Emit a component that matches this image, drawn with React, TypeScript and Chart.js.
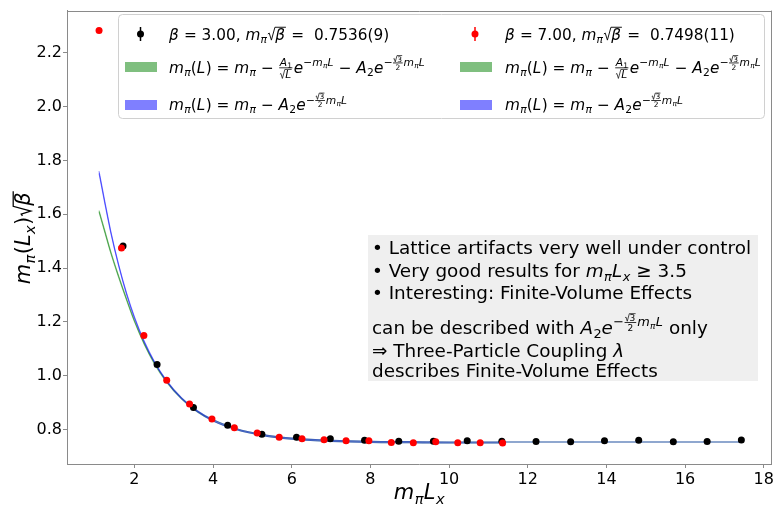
import React, { useEffect, useRef } from 'react';
import { Chart, registerables } from 'chart.js';
Chart.register(...registerables);

// ---------- data ----------
const xTicks = [2, 4, 6, 8, 10, 12, 14, 16, 18];
const yTicks = [0.8, 1.0, 1.2, 1.4, 1.6, 1.8, 2.0, 2.2];

const beta3X = [1.71, 2.575, 3.5, 4.37, 5.24, 6.12, 6.98, 7.85, 8.72, 9.6, 10.46, 11.34, 12.21, 13.09, 13.95, 14.82, 15.7, 16.56, 17.43];
const beta3Y = [1.482, 1.042, 0.882, 0.816, 0.783, 0.771, 0.766, 0.76, 0.757, 0.757, 0.758, 0.757, 0.756, 0.755, 0.758, 0.76, 0.755, 0.756, 0.761];

const beta7X = [1.1, 1.67, 2.24, 2.82, 3.4, 3.97, 4.54, 5.12, 5.68, 6.26, 6.82, 7.38, 7.96, 8.53, 9.09, 9.66, 10.22, 10.79, 11.36];
const beta7Y = [2.283, 1.475, 1.15, 0.983, 0.895, 0.839, 0.807, 0.787, 0.771, 0.766, 0.762, 0.758, 0.758, 0.752, 0.751, 0.755, 0.751, 0.751, 0.75];

const fitX3 = [1.1, 1.25, 1.4, 1.6, 1.8, 2.0, 2.25, 2.5, 2.8, 3.2, 3.6, 4.0, 4.6, 5.2, 6.0, 7.0, 8.0, 9.0, 10.0, 11.4, 13.0, 15.0, 17.43];
const fitBlue3 = [1.76, 1.645, 1.536, 1.412, 1.307, 1.219, 1.128, 1.055, 0.986, 0.918, 0.87, 0.836, 0.803, 0.783, 0.768, 0.76, 0.756, 0.755, 0.754, 0.754, 0.7537, 0.7536, 0.7536];
const fitGreen3 = [1.614, 1.537, 1.46, 1.37, 1.285, 1.205, 1.12, 1.05, 0.983, 0.917, 0.869, 0.836, 0.803, 0.783, 0.768, 0.76, 0.756, 0.755, 0.754, 0.754, 0.7537, 0.7536, 0.7536];

const fitX7 = [1.1, 1.25, 1.4, 1.6, 1.8, 2.0, 2.25, 2.5, 2.8, 3.2, 3.6, 4.0, 4.6, 5.2, 6.0, 7.0, 8.0, 9.0, 10.0, 11.36];
const fitBlue7 = [1.752, 1.638, 1.53, 1.407, 1.302, 1.214, 1.124, 1.051, 0.982, 0.914, 0.866, 0.832, 0.799, 0.779, 0.764, 0.756, 0.752, 0.751, 0.75, 0.75];
const fitGreen7 = [1.608, 1.531, 1.455, 1.365, 1.281, 1.201, 1.116, 1.046, 0.979, 0.913, 0.865, 0.832, 0.799, 0.779, 0.764, 0.756, 0.752, 0.751, 0.75, 0.75];

const legendLabel3 = '3.00';
const legendValue3 = '0.7536(9)';
const legendLabel7 = '7.00';
const legendValue7 = '0.7498(11)';

// ---------- math text ----------
type Seg = { t?: string; it?: boolean; sub?: Seg[]; sup?: Seg[]; frac?: [Seg[], Seg[]]; sqrt?: Seg[] };
const FAMILY = "'DejaVu Sans', sans-serif";

function setFont(ctx: CanvasRenderingContext2D, size: number, it: boolean) {
  ctx.font = `${it ? 'italic ' : ''}${size}px ${FAMILY}`;
}

function render(ctx: CanvasRenderingContext2D, segs: Seg[], x: number, y: number, size: number, draw: boolean): number {
  let cx = x;
  for (const s of segs) {
    if (s.t !== undefined) {
      setFont(ctx, size, !!s.it);
      const w = ctx.measureText(s.t).width;
      if (draw) ctx.fillText(s.t, cx, y);
      cx += w + (s.it ? size * 0.02 : 0);
    } else if (s.sub) {
      cx += render(ctx, s.sub, cx, y + size * 0.22, size * 0.7, draw);
    } else if (s.sup) {
      cx += render(ctx, s.sup, cx, y - size * 0.42, size * 0.7, draw);
    } else if (s.frac) {
      const fs = size * 0.7;
      const wn = render(ctx, s.frac[0], 0, 0, fs, false);
      const wd = render(ctx, s.frac[1], 0, 0, fs, false);
      const w = Math.max(wn, wd) + size * 0.12;
      const axis = y - size * 0.3;
      if (draw) {
        render(ctx, s.frac[0], cx + (w - wn) / 2, axis - size * 0.12, fs, true);
        render(ctx, s.frac[1], cx + (w - wd) / 2, axis + size * 0.66, fs, true);
        ctx.fillRect(cx + size * 0.04, axis - size * 0.03, w - size * 0.08, Math.max(0.8, size * 0.05));
      }
      cx += w + size * 0.04;
    } else if (s.sqrt) {
      const wc = render(ctx, s.sqrt, 0, 0, size, false);
      const rw = size * 0.5;
      if (draw) {
        ctx.save();
        ctx.lineWidth = Math.max(0.7, size * 0.06);
        ctx.strokeStyle = ctx.fillStyle as string;
        ctx.beginPath();
        ctx.moveTo(cx + size * 0.04, y - size * 0.36);
        ctx.lineTo(cx + size * 0.13, y - size * 0.42);
        ctx.lineTo(cx + size * 0.27, y + size * 0.04);
        ctx.lineTo(cx + rw, y - size * 0.8);
        ctx.lineTo(cx + rw + wc + size * 0.06, y - size * 0.8);
        ctx.stroke();
        ctx.restore();
        render(ctx, s.sqrt, cx + rw + size * 0.03, y, size, true);
      }
      cx += rw + wc + size * 0.1;
    }
  }
  return cx - x;
}

const mpi: Seg[] = [{ t: 'm', it: true }, { sub: [{ t: 'π', it: true }] }];
const expA2: Seg[] = [
  { t: 'A', it: true }, { sub: [{ t: '2' }] }, { t: 'e', it: true },
  { sup: [{ t: '−' }, { frac: [[{ sqrt: [{ t: '3' }] }], [{ t: '2' }]] }, ...mpi, { t: 'L', it: true }] },
];
const row1 = (b: string, v: string): Seg[] => [
  { t: 'β', it: true }, { t: ` = ${b}, ` }, ...mpi, { sqrt: [{ t: 'β', it: true }] }, { t: ` =  ${v}` },
];
const row2: Seg[] = [
  ...mpi, { t: '(' }, { t: 'L', it: true }, { t: ') = ' }, ...mpi, { t: ' − ' },
  { frac: [[{ t: 'A', it: true }, { sub: [{ t: '1' }] }], [{ sqrt: [{ t: 'L', it: true }] }]] },
  { t: 'e', it: true }, { sup: [{ t: '−' }, ...mpi, { t: 'L', it: true }] }, { t: ' − ' }, ...expA2,
];
const row3: Seg[] = [...mpi, { t: '(' }, { t: 'L', it: true }, { t: ') = ' }, ...mpi, { t: ' − ' }, ...expA2];

const boxLines: Seg[][] = [
  [{ t: '• Lattice artifacts very well under control' }],
  [{ t: '• Very good results for ' }, ...mpi, { t: 'L', it: true }, { sub: [{ t: 'x', it: true }] }, { t: ' ≥ 3.5' }],
  [{ t: '• Interesting: Finite-Volume Effects' }],
  [{ t: 'can be described with ' }, ...expA2, { t: ' only' }],
  [{ t: '⇒ Three-Particle Coupling ' }, { t: 'λ', it: true }],
  [{ t: 'describes Finite-Volume Effects' }],
];
const boxBaselines = [254, 277, 299, 334, 357, 377];

const xTitle: Seg[] = [...mpi, { t: 'L', it: true }, { sub: [{ t: 'x', it: true }] }];
const yTitle: Seg[] = [...mpi, { t: '(' }, { t: 'L', it: true }, { sub: [{ t: 'x', it: true }] }, { t: ')' }, { sqrt: [{ t: 'β', it: true }] }];

const GREEN = 'rgba(0,128,0,0.5)';
const BLUE = 'rgba(0,0,255,0.5)';
const SPINE = '#8a8a8a';
const LEG = 15.3;
const BOX = 18.4;

const decor = {
  id: 'decor',
  afterDraw(chart: any) {
    const ctx: CanvasRenderingContext2D = chart.ctx;
    const a = chart.chartArea;
    ctx.save();
    ctx.textBaseline = 'alphabetic';
    ctx.textAlign = 'left';
    // top & right spines
    ctx.strokeStyle = SPINE;
    ctx.lineWidth = 1;
    ctx.beginPath();
    ctx.moveTo(a.left, Math.round(a.top) + 0.5);
    ctx.lineTo(a.right, Math.round(a.top) + 0.5);
    ctx.moveTo(Math.round(a.right) - 0.5, a.top);
    ctx.lineTo(Math.round(a.right) - 0.5, a.bottom);
    ctx.stroke();

    // legend
    ctx.fillStyle = 'rgba(255,255,255,0.8)';
    ctx.strokeStyle = '#d0d0d0';
    ctx.beginPath();
    (ctx as any).roundRect(118.5, 14.5, 646, 104, 4);
    ctx.fill();
    ctx.stroke();

    const cols = [
      { mx: 140.5, px: 125, tx: 169, color: '#000000', b: legendLabel3, v: legendValue3 },
      { mx: 475, px: 460, tx: 505, color: '#ff0000', b: legendLabel7, v: legendValue7 },
    ];
    for (const c of cols) {
      ctx.strokeStyle = c.color;
      ctx.fillStyle = c.color;
      ctx.lineWidth = 1.5;
      ctx.beginPath();
      ctx.moveTo(c.mx, 27);
      ctx.lineTo(c.mx, 41);
      ctx.stroke();
      ctx.beginPath();
      ctx.arc(c.mx, 34, 3.5, 0, Math.PI * 2);
      ctx.fill();
      ctx.fillStyle = GREEN;
      ctx.fillRect(c.px, 62, 32, 10);
      ctx.fillStyle = BLUE;
      ctx.fillRect(c.px, 100, 32, 10);
      ctx.fillStyle = '#000';
      render(ctx, row1(c.b, c.v), c.tx, 39.5, LEG, true);
      render(ctx, row2, c.tx, 72.5, LEG, true);
      render(ctx, row3, c.tx, 110, LEG, true);
    }

    // text box
    ctx.fillStyle = '#efefef';
    ctx.fillRect(368, 235, 390, 146);
    ctx.fillStyle = '#000';
    boxLines.forEach((l, i) => render(ctx, l, 372, boxBaselines[i], BOX, true));

    // axis titles
    const wx = render(ctx, xTitle, 0, 0, 21, false);
    render(ctx, xTitle, (a.left + a.right) / 2 - wx / 2, 499, 21, true);
    const wy = render(ctx, yTitle, 0, 0, 21, false);
    ctx.translate(30, (a.top + a.bottom) / 2 + wy / 2);
    ctx.rotate(-Math.PI / 2);
    render(ctx, yTitle, 0, 0, 21, true);
    ctx.restore();
  },
};

const toXY = (xs: number[], ys: number[]) => xs.map((x, i) => ({ x, y: ys[i] }));

export default function App() {
  const ref = useRef<HTMLCanvasElement>(null);
  useEffect(() => {
    const canvas = ref.current!;
    Chart.defaults.font.family = FAMILY;
    const lineDs = (label: string, xs: number[], ys: number[], color: string) => ({
      label,
      data: toXY(xs, ys),
      showLine: true,
      borderColor: color,
      borderWidth: 1.1,
      pointRadius: 0,
      cubicInterpolationMode: 'monotone',
      fill: false,
      order: 2,
    });
    const chart = new Chart(canvas, {
      type: 'scatter',
      data: {
        datasets: [
          { label: 'beta7', data: toXY(beta7X, beta7Y), pointRadius: 3.5, pointBorderWidth: 0, backgroundColor: '#ff0000', borderColor: '#ff0000', order: 0 } as any,
          { label: 'beta3', data: toXY(beta3X, beta3Y), pointRadius: 3.5, pointBorderWidth: 0, backgroundColor: '#000000', borderColor: '#000000', order: 1 } as any,
          lineDs('blue3', fitX3, fitBlue3, BLUE),
          lineDs('blue7', fitX7, fitBlue7, BLUE),
          lineDs('green3', fitX3, fitGreen3, GREEN),
          lineDs('green7', fitX7, fitGreen7, GREEN),
        ],
      },
      options: {
        responsive: false,
        devicePixelRatio: 1,
        animation: false,
        events: [],
        layout: { padding: { top: 8, right: 3, left: 0, bottom: 0 } },
        plugins: { legend: { display: false }, tooltip: { enabled: false } },
        scales: {
          x: {
            type: 'linear',
            min: 0.285,
            max: 18.2,
            afterBuildTicks: (s: any) => { s.ticks = xTicks.map((v) => ({ value: v })); },
            afterFit: (s: any) => { s.height = 43; },
            ticks: { font: { size: 16, family: FAMILY }, color: '#000', padding: 2, maxRotation: 0, autoSkip: false, callback: (v: any) => String(v) },
            grid: { display: true, drawOnChartArea: false, drawTicks: true, tickLength: 4, tickColor: SPINE },
            border: { display: true, color: SPINE, width: 1 },
          },
          y: {
            type: 'linear',
            min: 0.672,
            max: 2.357,
            afterBuildTicks: (s: any) => { s.ticks = yTicks.map((v) => ({ value: v })); },
            afterFit: (s: any) => { s.width = 67; },
            ticks: { font: { size: 16, family: FAMILY }, color: '#000', padding: 1, autoSkip: false, callback: (v: any) => Number(v).toFixed(1) },
            grid: { display: true, drawOnChartArea: false, drawTicks: true, tickLength: 4, tickColor: SPINE },
            border: { display: true, color: SPINE, width: 1 },
          },
        },
      } as any,
      plugins: [decor],
    });
    return () => chart.destroy();
  }, []);
  return (
    <div style={{ position: 'absolute', left: 0, top: 0, width: 776, height: 507, background: '#fff' }}>
      <canvas ref={ref} width={776} height={507} style={{ display: 'block', width: 776, height: 507 }} />
    </div>
  );
}
